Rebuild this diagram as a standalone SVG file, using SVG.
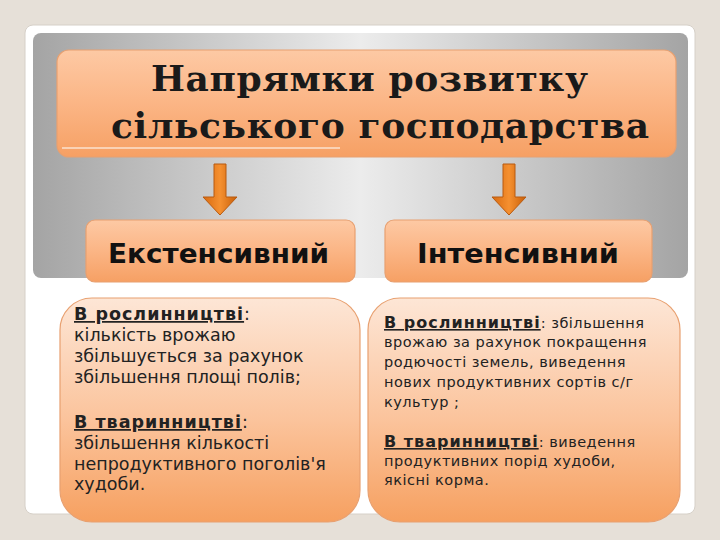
<svg xmlns="http://www.w3.org/2000/svg" width="720" height="540" viewBox="0 0 720 540">
<defs>
<linearGradient id="gray" x1="0" y1="0" x2="1" y2="0">
<stop offset="0" stop-color="#a4a4a4"/><stop offset="0.5" stop-color="#ececec"/><stop offset="1" stop-color="#a4a4a4"/>
</linearGradient>
<linearGradient id="org" x1="0" y1="0" x2="0" y2="1">
<stop offset="0" stop-color="#fdc9a4"/><stop offset="0.5" stop-color="#fbb585"/><stop offset="1" stop-color="#f6a064"/>
</linearGradient>
<linearGradient id="org2" x1="0" y1="0" x2="0" y2="1">
<stop offset="0" stop-color="#fde6d6"/><stop offset="0.55" stop-color="#fbc39b"/><stop offset="1" stop-color="#f6a060"/>
</linearGradient>
<linearGradient id="arr" x1="0" y1="0" x2="1" y2="0">
<stop offset="0" stop-color="#d86a10"/><stop offset="0.5" stop-color="#f59030"/><stop offset="1" stop-color="#c85f08"/>
</linearGradient>
<style>
.box{stroke:#e8a070;stroke-width:1.2}
.title{font-family:"DejaVu Serif","Liberation Serif",serif;font-weight:bold;font-size:36px;fill:#1a1a1a}
.sub{font-family:"DejaVu Sans","Liberation Sans",sans-serif;font-weight:bold;font-size:27px;fill:#111}
.tl{font-family:"DejaVu Sans","Liberation Sans",sans-serif;font-size:17.5px;fill:#222}
.tr{font-family:"DejaVu Sans","Liberation Sans",sans-serif;font-size:14.5px;fill:#222;letter-spacing:0.5px}
.b{font-weight:bold;text-decoration:underline;letter-spacing:1px}
.arrow{fill:url(#arr);stroke:#b85a10;stroke-width:1}
</style>
</defs>
<rect width="720" height="540" fill="#e6e0d8"/>
<rect x="25" y="25" width="670" height="489" rx="8" fill="#ffffff" stroke="#d6d0c8"/>
<rect x="33" y="33" width="655" height="245" rx="8" fill="url(#gray)"/>
<g id="title">
<rect class="box" x="57" y="50" width="619" height="107" rx="12" fill="url(#org)"/>
<line x1="62" y1="148" x2="340" y2="148" stroke="#fbe2cf" stroke-width="1.5"/>
<text class="title" x="151" y="91" textLength="437" lengthAdjust="spacing">Напрямки розвитку</text>
<text class="title" x="111" y="138" textLength="538" lengthAdjust="spacing">сільського господарства</text>
</g>
<g id="connectors">
<path class="arrow" d="M214,164 H226 V197 H237 L220,215 L203,197 H214 Z"/>
<path class="arrow" d="M503,164 H515 V197 H526 L509,215 L492,197 H503 Z"/>
</g>
<g id="extensive">
<rect class="box" x="86" y="220" width="269" height="62" rx="9" fill="url(#org)"/>
<text class="sub" x="108" y="263" textLength="221" lengthAdjust="spacingAndGlyphs">Екстенсивний</text>
</g>
<g id="intensive">
<rect class="box" x="385" y="220" width="267" height="62" rx="9" fill="url(#org)"/>
<text class="sub" x="417" y="263" textLength="202" lengthAdjust="spacingAndGlyphs">Інтенсивний</text>
</g>
<g id="ext-detail">
<rect class="box" x="60" y="298" width="300" height="224" rx="32" fill="url(#org2)"/>
<text class="tl" x="74" y="320"><tspan class="b">В рослинництві</tspan>:</text>
<text class="tl" x="74" y="341">кількість врожаю</text>
<text class="tl" x="74" y="362">збільшується за рахунок</text>
<text class="tl" x="74" y="383">збільшення площі полів;</text>
<text class="tl" x="74" y="428"><tspan class="b">В тваринництві</tspan>:</text>
<text class="tl" x="74" y="449">збільшення кількості</text>
<text class="tl" x="74" y="470">непродуктивного поголів'я</text>
<text class="tl" x="74" y="490">худоби.</text>
</g>
<g id="int-detail">
<rect class="box" x="368" y="298" width="312" height="224" rx="32" fill="url(#org2)"/>
<text class="tr" x="384" y="328"><tspan class="b" font-size="16">В рослинництві</tspan>: збільшення</text>
<text class="tr" x="384" y="347">врожаю за рахунок покращення</text>
<text class="tr" x="384" y="367">родючості земель, виведення</text>
<text class="tr" x="384" y="387">нових продуктивних сортів с/г</text>
<text class="tr" x="384" y="407">культур ;</text>
<text class="tr" x="384" y="447"><tspan class="b" font-size="16">В тваринництві</tspan>: виведення</text>
<text class="tr" x="384" y="466">продуктивних порід худоби,</text>
<text class="tr" x="384" y="485">якісні корма.</text>
</g>
</svg>
